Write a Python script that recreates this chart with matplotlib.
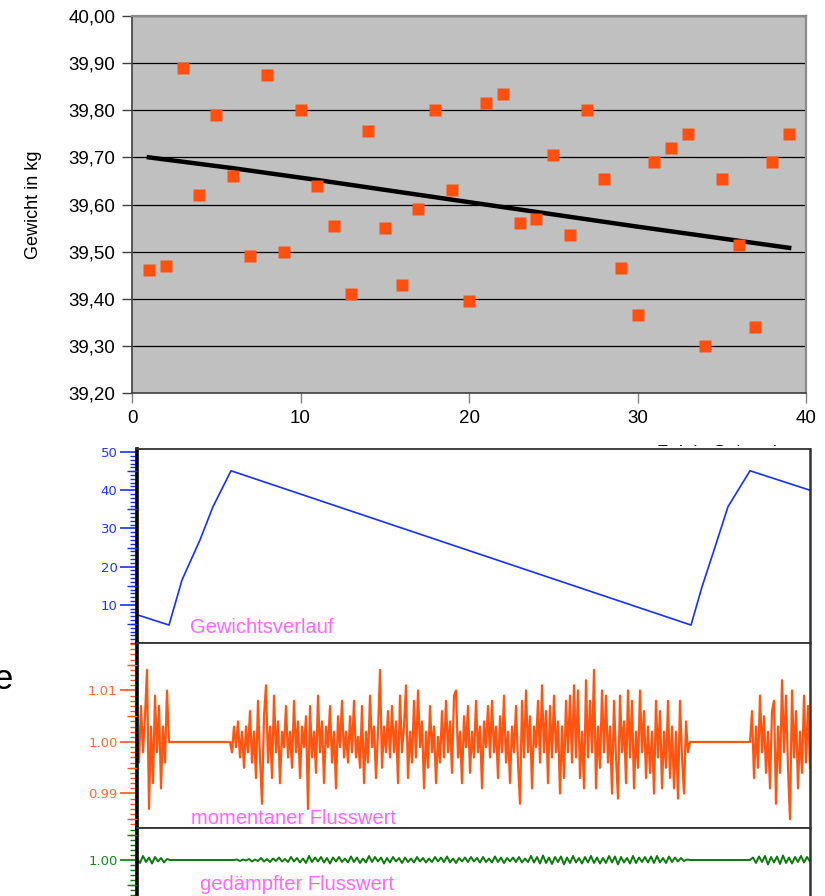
import numpy as np
import matplotlib
matplotlib.use("Agg")
import matplotlib.pyplot as plt
from matplotlib.patches import Rectangle
from matplotlib.ticker import MultipleLocator, FixedLocator, FuncFormatter

plt.rcParams["font.family"] = ["Liberation Sans", "DejaVu Sans"]

W, H = 825, 896

# ---------------------------------------------------------------------------
# Top chart: weighings
# ---------------------------------------------------------------------------
sample_no = np.arange(1, 40)
weight_kg = [39.46, 39.47, 39.89, 39.62, 39.79, 39.66, 39.49, 39.875, 39.50, 39.80,
             39.64, 39.555, 39.41, 39.755, 39.55, 39.43, 39.59, 39.80, 39.63, 39.395,
             39.815, 39.835, 39.56, 39.57, 39.705, 39.535, 39.80, 39.655, 39.465, 39.365,
             39.69, 39.72, 39.75, 39.30, 39.655, 39.515, 39.34, 39.69, 39.75]
trend_x = [1, 6, 11, 20, 30, 39]
trend_y = [39.700, 39.677, 39.652, 39.605, 39.553, 39.508]
weight_ticks = [39.2, 39.3, 39.4, 39.5, 39.6, 39.7, 39.8, 39.9, 40.0]
time_ticks = [0, 10, 20, 30, 40]

# ---------------------------------------------------------------------------
# Bottom chart: screen recording (time in screen samples)
# ---------------------------------------------------------------------------
level_t = [0, 32, 45, 63, 76, 94, 554, 565, 576, 591, 613, 673]
level_val = [7.4, 4.7, 16.5, 27.0, 35.7, 45.1, 4.7, 14.7, 23.5, 35.7, 45.1, 40.0]

# momentary flow, deviation from 1.00 in 1/1000
flow_dev_a = [2, -4, 7, -2, 5, 14, -13, 3, -8, 9, -2, 7, -9, 3, -4, 10, 0]
flow_dev_b = [
    0, -2, 3, -1, 4, -3, 2, -5, 3, -2, 6, -4, 2, -7, 8, -3, -12, 5, 11, -4,
    3, -7, 9, -2, 4, -8, 2, -1, 7, -3, 2, -5, 8, -2, 4, -7, 3, -1, 5, -13,
    7, -3, 2, -6, 9, -2, 4, -8, 3, -1, 7, -4, 2, -9, 5, -1, 8, -3, 2, -4,
    5, -2, 8, -3, 1, -5, 7, -8, 2, -4, 9, -1, 3, -7, 2, 14, -5, 3, -2, 6,
    -3, 7, -2, 4, -8, 9, -2, 3, 11, -7, 2, -4, 8, -3, 10, -1, 4, -9, 2, -5,
    7, -2, 3, -8, 1, -4, 6, -3, 8, -2, 4, -6, 9, 10, -3, 2, -8, 5, -1, 7,
    -6, 2, -3, 8, -2, 3, -9, 4, -1, 7, -3, 8, -2, 3, -7, 5, -2, 9, -4, 2,
    -8, 3, -2, 7, -4, -12, 8, -3, 10, -2, 5, -9, 3, -1, 8, -4, 11, -2, 6, -8,
    7, -3, 9, -2, 4, -10, 3, -7, 8, -2, 9, -4, 11, -3, 10, -7, 2, -9, 12, -3,
    8, -2, 14, -9, 3, -5, 10, -2, 9, -4, 3, -10, 8, -3, -11, 9, -2, 4, -8, 10,
    -3, 8, -9, 2, -5, 10, -2, 6, -7, 3, -6, 2, -10, 8, -3, 6, -9, 2, -5, 8,
    -7, 3, -9, 2, -11, 8, -3, -10, 4, -2, 0,
]
flow_dev_c = [0, 6, -7, 3, -5, 9, -2, 5, -6, 2, -9, 6, 8, -12, 3, -6, 12, -2, 9, -5,
              -15, 10, -3, 6, -9, 2, -6, 9, -4, 7, -5]

# damped flow, deviation from 1.00 in 1/10000
damp_dev_a = [3, -6, 8, -4, 5, -7, 6, -3, 4, -5, 2, 0]
damp_dev_b = [
    0, 1, -2, 1, -1, 2, -3, 1, -2, 4, -3, 2, -4, 3, -2, 5, -3, 2, -4, 6,
    -3, 4, -5, 3, -6, 8, -4, 5, -3, 6, -5, 4, -7, 5, -3, 6, -4, 3, -5, 7,
    -4, 5, -6, 3, -5, 8, -4, 6, -3, 5, -7, 4, -5, 6, -3, 4, -6, 5, -4, 3,
    -5, 6, -3, 4, -5, 3, -4, 6, -3, 5, -4, 7, -5, 3, -6, 4, -3, 5, -4, 6,
    -3, 4, -5, 6, -4, 3, -5, 7, -4, 5, -6, 4, -3, 5, -4, 6, -5, 3, -4, 8,
    -5, 6, -7, 9, -6, 5, -8, 6, -4, 7, -9, 5, -6, 8, -5, 4, -7, 6, -5, 8,
    -6, 5, -7, 4, -6, 8, -5, 7, -9, 6, -5, 4, -7, 8, -6, 5, -4, 6, -5, 7,
    -6, 8, -5, 4, -6, 7, -4, 5, -3, 4, -2, 1, 0,
]
damp_dev_c = [0, 5, -6, 7, -4, 8, -9, 6, -5, 7, -8, 9, -6, 5, -7, 6, -4, 8, -5, 6, -3]

flow_t = np.concatenate([np.linspace(0, 32, len(flow_dev_a)),
                         np.linspace(93, 553, len(flow_dev_b)),
                         np.linspace(613, 673, len(flow_dev_c))])
flow_val = 1.0 + np.concatenate([flow_dev_a, flow_dev_b, flow_dev_c]) / 1000.0
damp_t = np.concatenate([np.linspace(0, 33, len(damp_dev_a)),
                         np.linspace(97, 553, len(damp_dev_b)),
                         np.linspace(613, 673, len(damp_dev_c))])
damp_val = 1.0 + np.concatenate([damp_dev_a, damp_dev_b, damp_dev_c]) / 10000.0

C_MARK = "#FF5010"
C_BLUE, C_BLUE_TXT = "#1530FF", "#2035FF"
C_ORANGE, C_ORANGE_TXT = "#FF5511", "#FF6A35"
C_GREEN, C_GREEN_TXT = "#0C7A0C", "#178A17"
C_LABEL = "#FF66FF"

fig = plt.figure(figsize=(W / 100, H / 100), dpi=100)

# ---------------------------------------------------------------------------
# Top chart
# ---------------------------------------------------------------------------
ax = fig.add_axes([132 / W, 1 - 393 / H, 674 / W, 377 / H])
ax.set_facecolor("#C0C0C0")
ax.set_xlim(0, 40)
ax.set_ylim(39.2, 40.0)
ax.set_yticks(weight_ticks)
ax.set_xticks(time_ticks)
ax.yaxis.set_major_formatter(FuncFormatter(lambda v, p: f"{v:.2f}".replace(".", ",")))
ax.grid(axis="y", color="black", linewidth=0.9)
ax.set_axisbelow(True)

ax.plot(trend_x, trend_y, color="black", linewidth=3.2, zorder=3)
ax.plot(sample_no, weight_kg, "s", markersize=8, color=C_MARK, markeredgecolor="none", zorder=4)

for side in ["top", "right"]:
    ax.spines[side].set_color("#8C8C8C")
    ax.spines[side].set_linewidth(1.6)
for side in ["left", "bottom"]:
    ax.spines[side].set_color("#404040")
    ax.spines[side].set_linewidth(1.2)
ax.tick_params(axis="y", length=7, width=1, color="#404040", pad=5, labelsize=13.5)
ax.tick_params(axis="x", length=7, width=1, color="#808080", pad=5, labelsize=13.5)
ax.set_ylabel("Gewicht in kg", fontsize=13)
ax.yaxis.set_label_coords(-0.134, 0.5)

fig.text(657 / W, 1 - 458 / H, "Zeit in Sekunden", fontsize=13.5, ha="left", va="baseline", zorder=1)

# the screenshot of the recorder lies on top of the chart
fig.add_artist(Rectangle((14 / W, 0), 1, 1 - 446 / H, transform=fig.transFigure,
                         facecolor="white", edgecolor="none", zorder=2))
fig.text(13 / W, 1 - 689 / H, "e", fontsize=25, ha="right", va="baseline", zorder=5)

# ---------------------------------------------------------------------------
# Bottom chart: three stacked traces
# ---------------------------------------------------------------------------
left, width = 137 / W, 673 / W
p1 = fig.add_axes([left, 1 - 643 / H, width, 194 / H], zorder=3)
p2 = fig.add_axes([left, 1 - 828 / H, width, 185 / H], zorder=3)
p3 = fig.add_axes([left, 0, width, 68 / H], zorder=3)


def style_panel(pax, ylim, majors, labels, minor_step, mids, line_c, txt_c):
    pax.set_facecolor("white")
    pax.set_xlim(0, 673)
    pax.set_ylim(*ylim)
    pax.yaxis.set_major_locator(FixedLocator(majors))
    pax.set_yticklabels(labels, family="DejaVu Sans")
    pax.yaxis.set_minor_locator(MultipleLocator(minor_step))
    pax.tick_params(axis="y", which="major", length=12, width=1.2, color=line_c,
                    labelcolor=txt_c, labelsize=9.5, pad=2)
    pax.tick_params(axis="y", which="minor", length=5, width=1.0, color=line_c)
    pax.tick_params(axis="x", which="both", bottom=False, labelbottom=False)
    for side in ["top", "right", "bottom"]:
        pax.spines[side].set_color("#333333")
        pax.spines[side].set_linewidth(1.3)
    pax.spines["right"].set_linewidth(1.8)
    pax.spines["left"].set_color("black")
    pax.spines["left"].set_linewidth(2.6)
    # medium ticks at the half steps
    tw = pax.twinx()
    tw.set_zorder(3.5)
    tw.set_ylim(*ylim)
    tw.yaxis.tick_left()
    tw.set_yticks(mids)
    tw.tick_params(axis="y", length=7.5, width=1.0, color=line_c, labelleft=False)
    for s in tw.spines.values():
        s.set_visible(False)


style_panel(p1, (0, 50.8), [10, 20, 30, 40, 50], ["10", "20", "30", "40", "50"], 1,
            [5, 15, 25, 35, 45], C_BLUE, C_BLUE_TXT)
style_panel(p2, (0.98330, 1.01922), [0.99, 1.00, 1.01], ["0.99", "1.00", "1.01"], 0.001,
            [0.985, 0.995, 1.005, 1.015], C_ORANGE, C_ORANGE_TXT)
style_panel(p3, (0.9928, 1.0064), [1.00], ["1.00"], 0.001,
            [0.995, 1.005], C_GREEN, C_GREEN_TXT)
p3.spines["bottom"].set_visible(False)

p1.plot(level_t, level_val, color=C_BLUE, linewidth=1.2)
p2.plot(flow_t, flow_val, color=C_ORANGE, linewidth=1.6)
p3.plot(damp_t, damp_val, color=C_GREEN, linewidth=1.4)

p1.text(0.0788, 0.05, "Gewichtsverlauf", transform=p1.transAxes, color=C_LABEL,
        fontsize=14.5, va="baseline")
p2.text(0.0802, 0.02, "momentaner Flusswert", transform=p2.transAxes, color=C_LABEL,
        fontsize=14.5, va="baseline")
p3.text(0.0936, 0.09, "gedämpfter Flusswert", transform=p3.transAxes, color=C_LABEL,
        fontsize=14.5, va="baseline")

fig.savefig("out.png", dpi=100)
